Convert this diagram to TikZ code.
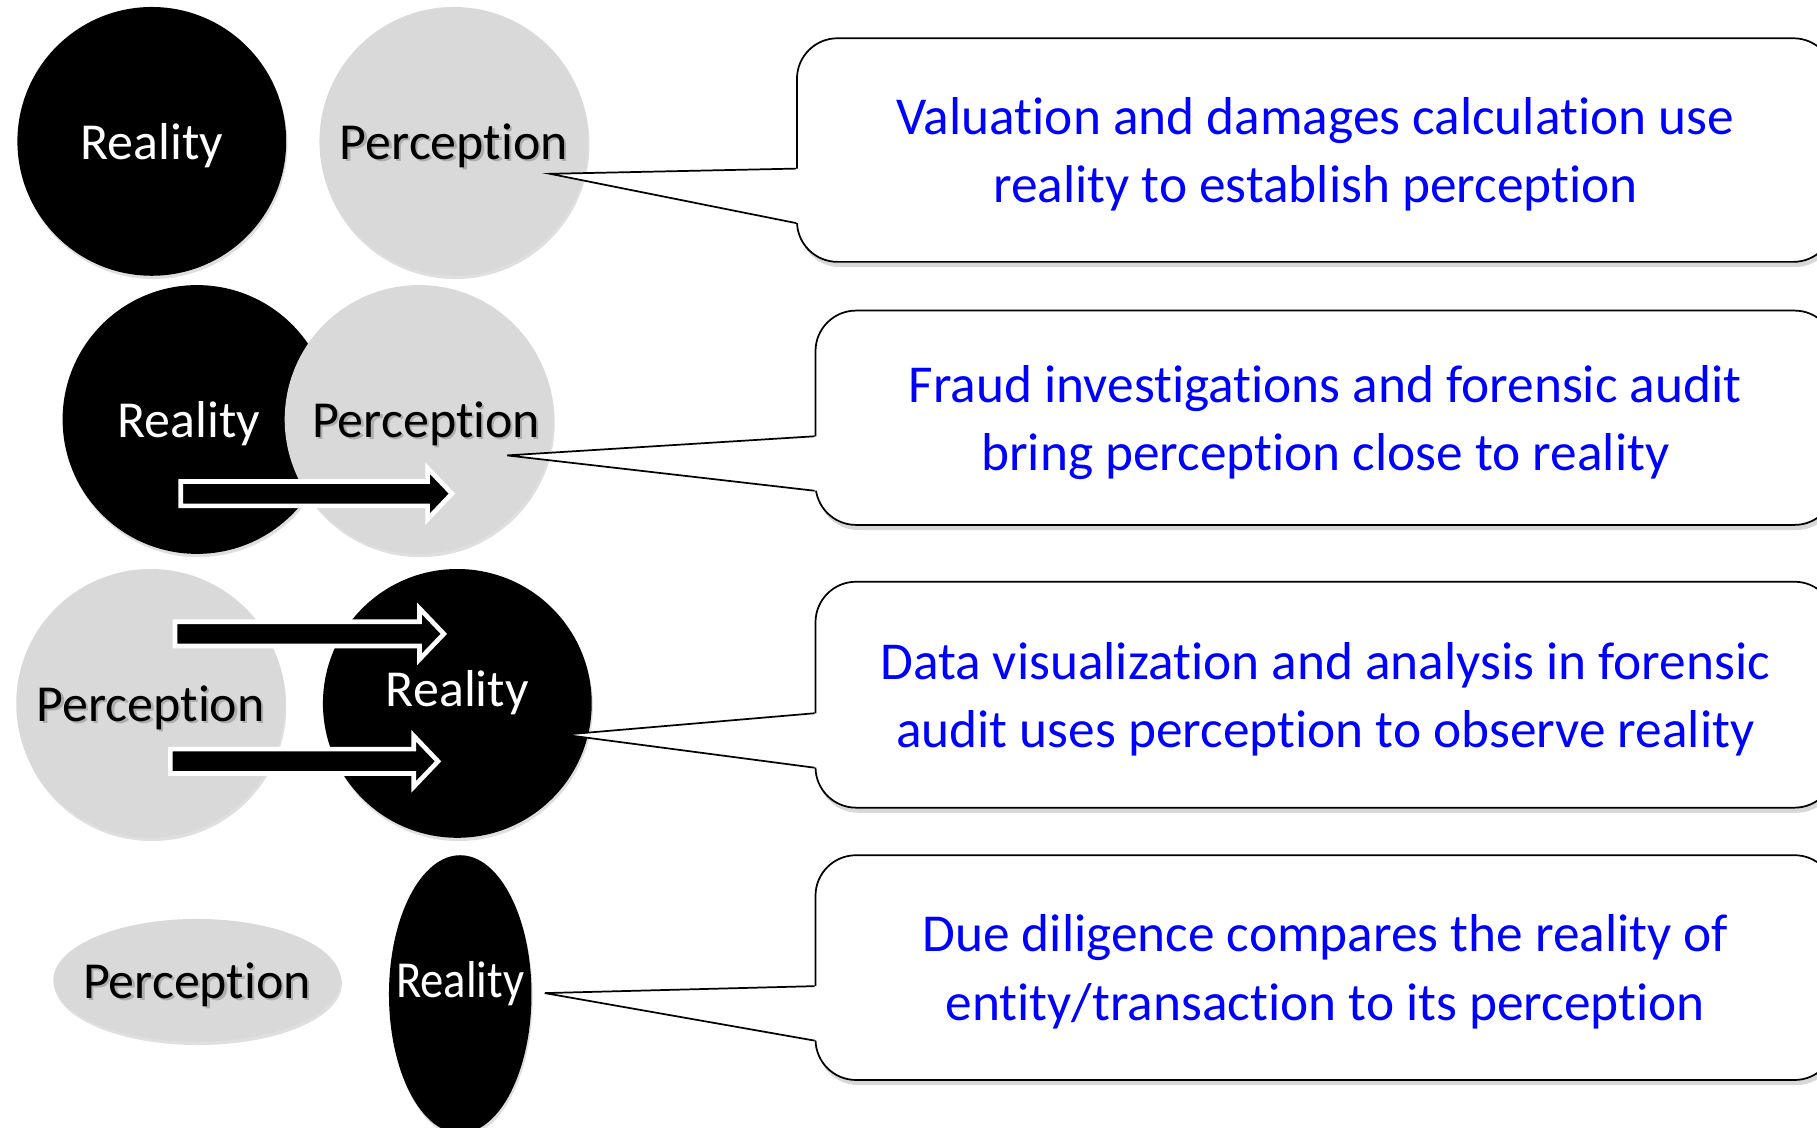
\documentclass[tikz,border=0pt]{standalone}
\usepackage{fontspec}
\setmainfont{Carlito}[Ligatures={NoCommon,NoContextual}]
\usepackage{tikz}
\usetikzlibrary{positioning,calc,shadows,shapes.geometric}

\definecolor{percgray}{RGB}{217,217,217}
\definecolor{noteblue}{RGB}{0,0,255}

\newcommand{\circfont}{\fontsize{25.5}{30}\selectfont}
\newcommand{\notefont}{\fontsize{26.2}{33.6}\selectfont}
% black text with a grey copy offset behind it
\newcommand{\shtext}[1]{\makebox[0pt][l]{\hspace{1.1pt}\raisebox{-1.1pt}{\textcolor{black!32}{#1}}}#1}
% white-rimmed block arrow: tail point, length
\newcommand{\fatarrow}[2]{\draw[fatarrow] (#1) ++(0,-10.5) -- ++({#2-21},0) -- ++(0,-11.5) -- ++(21,22) -- ++(-21,22) -- ++(0,-11.5) -- ++({21-#2},0) -- cycle;}
% wedge from the left edge of a note to a tip point
\newcommand{\pointer}[2]{%
  \fill[white] ($(#1.west)+(2,16)$) -- (#2) -- ($(#1.west)+(2,63)$) -- cycle;
  \draw[outline] ($(#1.west)+(0,16)$) -- (#2) -- ($(#1.west)+(0,63)$);}

\begin{document}
\begin{tikzpicture}[x=0.02cm, y=-0.02cm,
  real/.style={circle, fill=black, text=white, inner sep=0pt, minimum size=4.64cm, font=\circfont, text depth=0pt,
    drop shadow={opacity=0.25, shadow xshift=0.6pt, shadow yshift=-1.6pt}},
  perc/.style={real, fill=percgray, text=black},
  realtext/.style={text=white, font=\circfont, text depth=0pt},
  perctext/.style={text=black, font=\circfont, text depth=0pt},
  note/.style={draw, fill=white, line width=0.85pt, rounded corners=0.7cm, align=center, anchor=west,
    text=noteblue, font=\notefont, minimum width=17.6cm, text depth=0pt,
    drop shadow={opacity=0.3, shadow xshift=1pt, shadow yshift=-2.5pt}},
  outline/.style={line width=0.85pt, line join=miter},
  fatarrow/.style={fill=black, draw=white, line width=0.08cm, line join=miter}]

\fill[white] (0,0) rectangle (1568,973);
\useasboundingbox (0,0) rectangle (1568,973);

% row 1: apart
\node[real] (r1) at (131,122) {Reality};
\node[perc, right=0.56cm of r1] (p1) {\shtext{Perception}};

% row 2: overlapping
\node[real, label={[realtext, xshift=-0.14cm]center:Reality}] (r2) at (170,362) {};
\node[perc, right=-0.82cm of r2, label={[perctext, xshift=0.12cm]center:\shtext{Perception}}] (p2) {};
\fatarrow{156,426}{234}

% row 3: perception looks at reality
\node[perc] (p3) at (130,607) {\shtext{Perception}};
\node[real, right=0.64cm of p3, label={[realtext, yshift=0.26cm]center:Reality}] (r3) {};
\fatarrow{151,547}{232}
\fatarrow{147,657}{231}

% row 4: flattened shapes
\node[perc, ellipse, minimum width=4.96cm, minimum height=2.12cm,
  label={[perctext]center:\shtext{Perception}}] (p4) at (170,846) {};
\node[real, ellipse, minimum width=2.46cm, minimum height=4.8cm, right=0.82cm of p4, yshift=-0.24cm,
  label={[realtext, yshift=0.26cm]center:\scalebox{0.9}[1]{Reality}}] (r4) {};

% notes
\node[note, minimum width=17.9cm, minimum height=3.86cm] (n1) at (687,129.5)
  {Valuation and damages calculation use\\reality to establish perception};
\node[note, minimum height=3.7cm] (n2) at (703,360.5)
  {Fraud investigations and forensic audit\\bring perception close to reality};
\node[note, minimum height=3.9cm] (n3) at (703,599.5)
  {Data visualization and analysis in forensic\\audit uses perception to observe reality};
\node[note, minimum height=3.88cm] (n4) at (703,835)
  {Due diligence compares the reality of\\entity/transaction to its perception};

\coordinate (t1) at ($(p1)+(83,28)$);
\coordinate (t2) at ($(p2)+(76,31)$);
\coordinate (t3) at ($(r3)+(92,27)$);
\coordinate (t4) at ($(r4)+(73,-1)$);
\pointer{n1}{t1}
\pointer{n2}{t2}
\pointer{n3}{t3}
\pointer{n4}{t4}

\end{tikzpicture}
\end{document}
